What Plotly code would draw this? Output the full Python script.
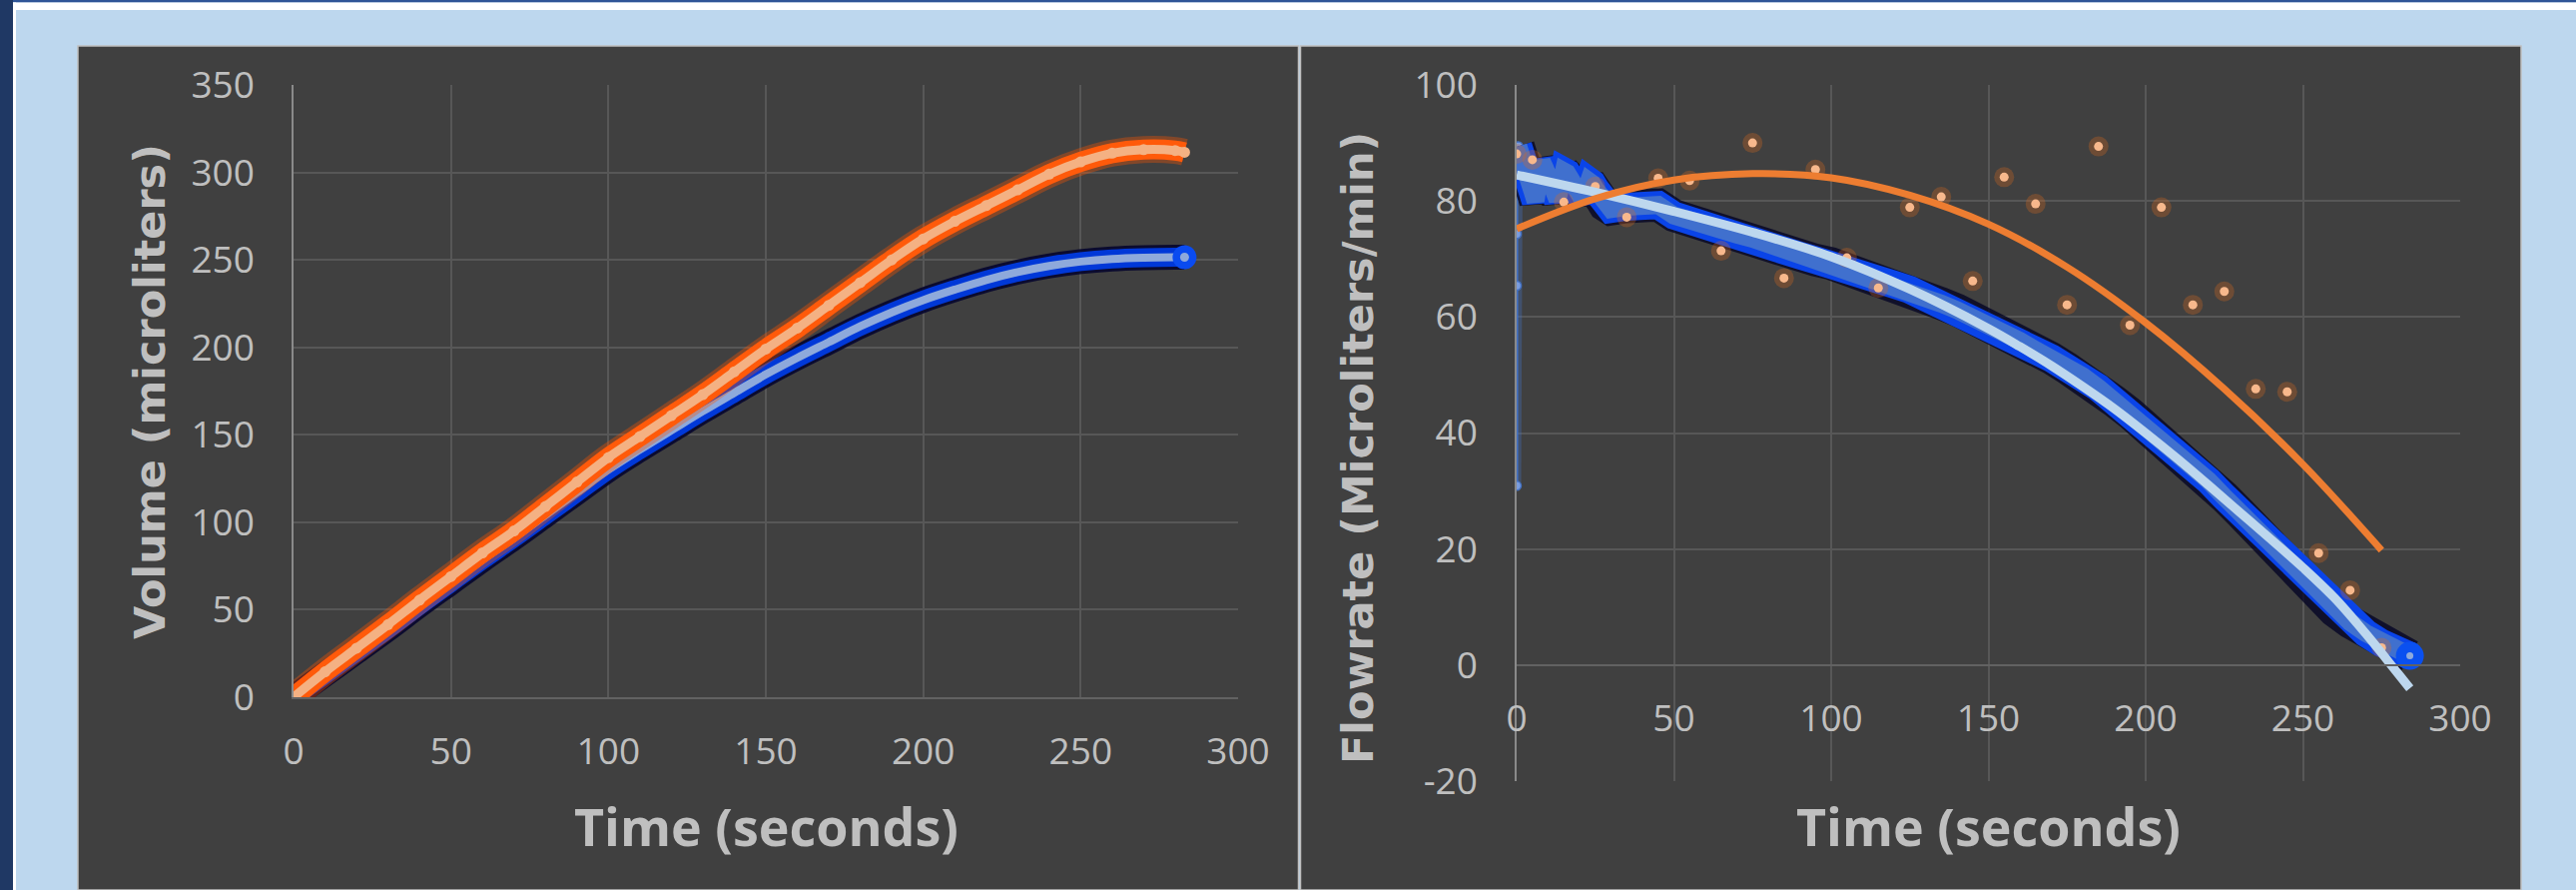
import plotly.graph_objects as go

W, H = 2580, 891

# ---------------- Left chart: Volume (microliters) vs Time (seconds)
vol_time = [0, 10, 20, 30, 40, 50, 60, 70, 80, 90, 100, 110, 120, 130, 140, 150,
            160, 170, 180, 190, 200, 210, 220, 230, 240, 250, 260, 270, 280, 283]
vol_orange = [0, 14.5, 28, 41.5, 55.5, 69, 82.5, 95, 109, 123, 137, 149, 161, 173, 186, 199,
              211, 224, 237, 250, 262, 272, 281, 290, 299, 306, 311, 313, 312.5, 311.5]
vol_blue = [0, 13, 26, 39, 52.5, 65.5, 78.5, 91, 104, 117, 130, 141.5, 152.5, 163.5, 174, 184.5,
            194, 203, 212, 220, 227, 233, 238.5, 243, 246.5, 249, 250.5, 251.2, 251.5, 251.5]

# ---------------- Right chart: Flowrate (Microliters/min) vs Time (seconds)
flow_time = [0, 0, 0, 0, 0.5,
             1, 2, 3, 4, 5, 6, 7, 8, 9, 10, 11, 12, 13, 14, 15, 16, 17, 18, 19, 20,
             21, 22, 23, 24, 25, 26, 27, 28, 29, 30,
             35, 40, 45, 50, 55, 60, 65, 70, 75, 80, 85, 90, 95, 100, 105, 110, 115, 120,
             125, 130, 135, 140, 145, 150, 155, 160, 165, 170, 175, 180, 185, 190, 195, 200,
             205, 210, 215, 220, 225, 230, 235, 240, 245, 250, 255, 260, 265, 270, 275, 280, 284]
flow_blue = [30.9, 65.4, 74.3, 85.4, 89.4,
             88.0, 86.6, 85.0, 83.4, 81.7, 80.0, 83.5, 86.8, 85.6, 84.3, 83.0, 81.6, 80.2, 82.6, 85.1,
             84.8, 83.9, 82.9, 81.9, 81.0, 80.2, 81.8, 83.4, 83.0, 82.1, 81.2, 80.2, 79.3, 78.5, 78.6,
             79.0, 79.4, 79.3, 77.5, 76.5, 75.5, 74.7, 74.2, 73.5, 72.6, 71.5, 70.6, 69.8, 69.2, 68.4,
             67.4, 66.3, 65.6, 64.7, 63.5, 62.3, 61.2, 60.0, 58.5, 57.4, 55.9, 54.3, 52.9, 51.2, 49.8,
             47.8, 45.5, 43.4, 41.2, 38.9, 37.0, 34.2, 31.8, 29.0, 26.3, 23.3, 20.2, 17.5, 14.8, 12.0,
             9.4, 7.4, 5.5, 3.8, 2.5, 1.6]

dot_time = [0, 5, 15, 25, 35, 45, 55, 65, 75, 85, 95, 105, 115, 125, 135, 145, 155, 165, 175,
            185, 195, 205, 215, 225, 235, 245, 255, 265, 275]
dot_flow = [88.1, 87.1, 79.8, 82.5, 77.2, 83.9, 83.5, 71.4, 90.0, 66.7, 85.4, 70.2, 65.0, 78.9,
            80.7, 66.2, 84.1, 79.5, 62.1, 89.4, 58.6, 78.9, 62.1, 64.4, 47.6, 47.1, 19.3, 12.9, 3.0]

trend_o_time = [0, 25, 50, 75, 100, 125, 150, 175, 200, 225, 250, 275]
trend_o_flow = [75.2, 80.4, 83.6, 84.7, 84.0, 81.0, 76.0, 68.6, 59.0, 47.6, 34.6, 19.8]

trend_b_time = [0, 25, 50, 75, 100, 125, 150, 160, 170, 180, 190, 200, 210, 220, 230, 240, 250,
                260, 270, 280, 284]
trend_b_flow = [84.5, 81.5, 78.2, 74.6, 70.4, 64.8, 58.0, 54.9, 51.6, 48.0, 44.2, 40.0, 35.6, 31.0,
                26.3, 21.6, 16.8, 11.6, 5.4, -1.3, -4.0]

x_ticks = [0, 50, 100, 150, 200, 250, 300]
vol_ticks = [0, 50, 100, 150, 200, 250, 300, 350]
flow_ticks = [-20, 0, 20, 40, 60, 80, 100]

TXT = '#BFBFBF'
GRID = '#575757'

fig = go.Figure()


def add(x, y, xa, ya, **kw):
    fig.add_trace(go.Scatter(x=x, y=y, xaxis=xa, yaxis=ya, showlegend=False,
                             hoverinfo='skip', **kw))


# ---- left: blue (smooth line with glow)
add(vol_time, vol_blue, 'x', 'y', mode='lines',
    line=dict(color='rgba(5,5,45,0.9)', width=25, shape='spline'))
add(vol_time, vol_blue, 'x', 'y', mode='lines',
    line=dict(color='#0038D8', width=19, shape='spline'))
add(vol_time, vol_blue, 'x', 'y', mode='lines',
    line=dict(color='#8EA9DB', width=8, shape='spline'))
add(vol_time[-1:], vol_blue[-1:], 'x', 'y', mode='markers',
    marker=dict(size=24, color='#0A4BF0', line=dict(width=0)))
add(vol_time[-1:], vol_blue[-1:], 'x', 'y', mode='markers',
    marker=dict(size=9, color='#8EA9DB', line=dict(width=0)))
# ---- left: orange (markers with glow)
add(vol_time, vol_orange, 'x', 'y', mode='lines',
    line=dict(color='rgba(255,85,0,0.35)', width=27, shape='spline'))
add(vol_time, vol_orange, 'x', 'y', mode='lines',
    line=dict(color='#FF5A0A', width=20, shape='spline'))
add(vol_time, vol_orange, 'x', 'y', mode='lines+markers',
    line=dict(color='#F4B183', width=9, shape='spline'),
    marker=dict(size=11, color='#F4B183', line=dict(width=0)))

# ---- right: blue flow band
add(flow_time[:5], flow_blue[:5], 'x2', 'y2', mode='lines',
    line=dict(color='rgba(68,114,196,0.35)', width=9))
add(flow_time[:5], flow_blue[:5], 'x2', 'y2', mode='lines+markers',
    line=dict(color='#4472C4', width=3),
    marker=dict(size=9, color='#7A9CDD', line=dict(color='#4472C4', width=1.5)))
add(flow_time[4:], flow_blue[4:], 'x2', 'y2', mode='lines',
    line=dict(color='rgba(0,0,35,0.75)', width=33))
add(flow_time[4:], flow_blue[4:], 'x2', 'y2', mode='lines',
    line=dict(color='#0A44E8', width=28))
add(flow_time[4:], flow_blue[4:], 'x2', 'y2', mode='lines',
    line=dict(color='#4070CE', width=18))
add(flow_time[-1:], flow_blue[-1:], 'x2', 'y2', mode='markers',
    marker=dict(size=28, color='#0A50F0', line=dict(width=0)))
add(flow_time[-1:], flow_blue[-1:], 'x2', 'y2', mode='markers',
    marker=dict(size=7, color='#8EA9DB', line=dict(width=0)))

# ---- right: orange dots
add(dot_time, dot_flow, 'x2', 'y2', mode='markers',
    marker=dict(size=20, color='rgba(220,105,30,0.30)', line=dict(width=0)))
add(dot_time, dot_flow, 'x2', 'y2', mode='markers',
    marker=dict(size=9, color='#F8B88C', line=dict(width=0)))

# ---- right: trendlines
add(trend_b_time, trend_b_flow, 'x2', 'y2', mode='lines',
    line=dict(color='#BDD7EE', width=9, shape='spline'))
add(trend_o_time, trend_o_flow, 'x2', 'y2', mode='lines',
    line=dict(color='#ED7D31', width=7, shape='spline'))

tickfont = dict(family='Open Sans', size=37, color=TXT)
base = dict(showgrid=True, gridcolor=GRID, gridwidth=1.5, zeroline=False,
            tickfont=tickfont, ticks='', fixedrange=True, tickmode='array',
            automargin=False)

fig.update_layout(
    width=W, height=H, autosize=False,
    margin=dict(l=0, r=0, t=0, b=0, pad=0, autoexpand=False),
    paper_bgcolor='#BDD7EE', plot_bgcolor='rgba(0,0,0,0)',
    xaxis=dict(base, domain=[294 / W, 1240 / W], range=[0, 300], tickvals=x_ticks,
               ticktext=[str(v) for v in x_ticks],
               anchor='y', showline=True, linecolor='#626262', linewidth=1.5,
               ticklabelstandoff=21),
    yaxis=dict(base, domain=[1 - 698 / H, 1 - 85 / H], range=[0, 350], tickvals=vol_ticks,
               ticktext=[str(v) for v in vol_ticks],
               anchor='x', showline=True, linecolor='#8A8A8A', linewidth=1.5,
               ticklabelstandoff=30),
    xaxis2=dict(base, domain=[1519 / W, 2464 / W], range=[0, 300], tickvals=x_ticks,
                ticktext=[str(v) for v in x_ticks],
                anchor='free', position=1 - 666 / H, showline=True, linecolor='#626262',
                linewidth=1.5, ticklabelstandoff=21),
    yaxis2=dict(base, domain=[1 - 782 / H, 1 - 85 / H], range=[-20, 100], tickvals=flow_ticks,
                ticktext=[str(v) for v in flow_ticks],
                anchor='x2', showline=True, linecolor='#8A8A8A', linewidth=1.5,
                ticklabelstandoff=30),
)


def rect(x0, y0, x1, y1, fill, line_color=None, lw=0):
    return dict(type='rect', xref='paper', yref='paper', layer='below',
                x0=x0 / W, x1=x1 / W, y0=1 - y1 / H, y1=1 - y0 / H,
                fillcolor=fill, line=dict(color=line_color or fill, width=lw))


shapes = [
    rect(0, 0, W, 2.5, '#2F5597'),
    rect(13, 2.5, W, 10, '#FFFFFF'),
    rect(13, 2.5, 16, H, '#FFFFFF'),
    rect(0, 0, 13, H, '#1F3864'),
    rect(78, 46, 1300.5, 891, '#404040', '#BFBFBF', 1.5),
    rect(1302.5, 46, 2525, 891, '#404040', '#BFBFBF', 1.5),
]

ann = [
    dict(text='<b>Time (seconds)</b>', x=767 / W, y=1 - 826 / H),
    dict(text='<b>Time (seconds)</b>', x=1991.5 / W, y=1 - 826 / H),
]
annotations = []
for a in ann:
    annotations.append(dict(a, xref='paper', yref='paper', showarrow=False,
                            xanchor='center', yanchor='middle',
                            font=dict(family='Open Sans', size=52, color=TXT)))
annotations.append(dict(text='<b>Volume (microliters)</b>', x=150 / W, y=1 - 392 / H,
                        xref='paper', yref='paper', showarrow=False, textangle=-90,
                        xanchor='center', yanchor='middle',
                        font=dict(family='DejaVu Sans', size=43, color=TXT)))
annotations.append(dict(text='<b>Flowrate (Microliters/min)</b>', x=1360 / W, y=1 - 449 / H,
                        xref='paper', yref='paper', showarrow=False, textangle=-90,
                        xanchor='center', yanchor='middle',
                        font=dict(family='DejaVu Sans', size=43, color=TXT)))

fig.update_layout(shapes=shapes, annotations=annotations)

fig.write_html('out.html', config={'responsive': False, 'displayModeBar': False},
               post_script="document.body.style.margin='0';"
                           "document.body.style.overflow='hidden';")
